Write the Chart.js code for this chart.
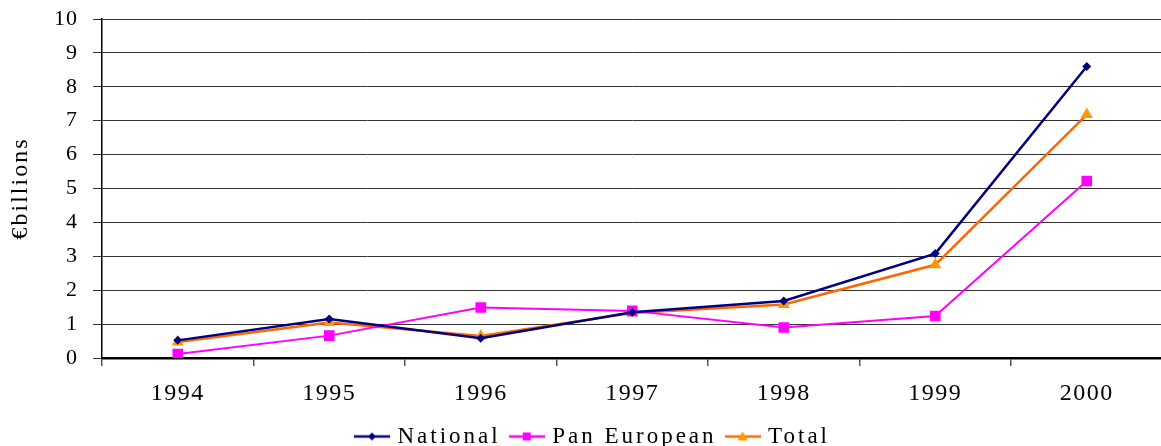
<!DOCTYPE html>
<html>
<head>
<meta charset="utf-8">
<script src="https://cdn.jsdelivr.net/npm/chart.js@4"></script>
<style>
    html, body { margin: 0; padding: 0; background: #fff; overflow: hidden; }
    #wrap { width: 1170px; height: 458px; position: relative; }
</style>
</head>
<body>
<div id="wrap"><canvas id="chart"></canvas></div>
<script>
// Values (€ billions)
const years = ['1994', '1995', '1996', '1997', '1998', '1999', '2000'];
const national = [0.52, 1.15, 0.58, 1.35, 1.68, 3.08, 8.6];
const panEuropean = [0.12, 0.66, 1.49, 1.39, 0.9, 1.24, 5.22];
const total = [0.47, 1.05, 0.65, 1.33, 1.58, 2.75, 7.18];
const yTicks = [0, 1, 2, 3, 4, 5, 6, 7, 8, 9, 10];

const FONT = '"Liberation Serif", "Times New Roman", serif';

// small line + marker image for the legend entries
function legendIcon(lineColor, markColor, shape) {
    const c = document.createElement('canvas');
    c.width = 36;
    c.height = 12;
    const g = c.getContext('2d');
    g.strokeStyle = lineColor;
    g.lineWidth = 2.5;
    g.beginPath();
    g.moveTo(0, 6);
    g.lineTo(36, 6);
    g.stroke();
    g.fillStyle = markColor;
    g.beginPath();
    if (shape === 'diamond') {
        g.moveTo(18, 2); g.lineTo(22, 6); g.lineTo(18, 10); g.lineTo(14, 6);
    } else if (shape === 'square') {
        g.rect(14, 2, 8, 8);
    } else {
        g.moveTo(18, 1); g.lineTo(23, 10); g.lineTo(13, 10);
    }
    g.closePath();
    g.fill();
    return c;
}

// run one method of a chart part with a given canvas letter spacing
// (and optionally a small horizontal shift)
function withSpacing(obj, method, value, shiftX = 0) {
    const orig = obj[method];
    obj[method] = function (...args) {
        const ctx = this.ctx;
        ctx.save();
        ctx.letterSpacing = value;
        if (shiftX) ctx.translate(shiftX, 0);
        try {
            return orig.apply(this, args);
        } finally {
            ctx.restore();
        }
    };
}

// the reference text is drawn letter-spaced, by a different amount per part
const spacing = {
    id: 'spacing',
    beforeLayout(chart) {
        if (chart.$spaced) return;
        chart.$spaced = true;
        withSpacing(chart.scales.x, 'drawLabels', '1.5px');
        withSpacing(chart.scales.y, 'drawLabels', '1px');
        withSpacing(chart.scales.y, 'drawTitle', '2px');
        withSpacing(chart.legend, 'fit', '3px');
        withSpacing(chart.legend, 'draw', '3px', 8);
    }
};

new Chart(document.getElementById('chart'), {
    type: 'line',
    data: {
        labels: years,
        datasets: [
            {
                label: 'National',
                data: national,
                borderColor: '#000080',
                backgroundColor: '#000080',
                borderWidth: 2.5,
                pointStyle: 'rectRot',
                pointRadius: 4.5,
                pointBorderWidth: 0,
                legendIcon: legendIcon('#000080', '#000080', 'diamond')
            },
            {
                label: 'Pan European',
                data: panEuropean,
                borderColor: '#FF00FF',
                backgroundColor: '#FF00FF',
                borderWidth: 2,
                pointStyle: 'rect',
                pointRadius: 7.5,
                pointBorderWidth: 0,
                legendIcon: legendIcon('#FF00FF', '#FF00FF', 'square')
            },
            {
                label: 'Total',
                data: total,
                borderColor: '#FF6600',
                backgroundColor: '#FF9900',
                borderWidth: 2.5,
                pointStyle: 'triangle',
                pointRadius: 7,
                pointBorderWidth: 0,
                legendIcon: legendIcon('#FF6600', '#FF9900', 'triangle')
            }
        ]
    },
    options: {
        responsive: true,
        maintainAspectRatio: false,
        animation: false,
        layout: { padding: { top: 19, left: 6, right: 4, bottom: 0 } },
        plugins: {
            tooltip: { enabled: false },
            legend: {
                position: 'bottom',
                align: 'center',
                labels: {
                    color: '#000',
                    font: { family: FONT, size: 23 },
                    usePointStyle: true,
                    pointStyleWidth: 28,
                    padding: 12,
                    generateLabels(chart) {
                        return chart.data.datasets.map((ds, i) => ({
                            text: ds.label,
                            pointStyle: ds.legendIcon,
                            datasetIndex: i,
                            fontColor: '#000',
                            lineWidth: 0,
                            strokeStyle: 'transparent',
                            fillStyle: 'transparent'
                        }));
                    }
                }
            }
        },
        scales: {
            x: {
                offset: true,
                grid: {
                    offset: true,
                    drawOnChartArea: false,
                    drawTicks: true,
                    tickLength: 8,
                    color: '#555',
                    lineWidth: 1.5
                },
                border: { display: true, color: '#000', width: 2.5 },
                ticks: {
                    color: '#000',
                    font: { family: FONT, size: 24 },
                    padding: 13,
                    maxRotation: 0
                },
                afterFit(scale) { scale.height = 55; }
            },
            y: {
                min: 0,
                max: 10,
                afterBuildTicks(scale) { scale.ticks = yTicks.map(v => ({ value: v })); },
                grid: {
                    color: '#333',
                    lineWidth: 1,
                    tickLength: 9,
                    drawTicks: true
                },
                border: { display: true, color: '#000', width: 1.5 },
                ticks: {
                    color: '#000',
                    font: { family: FONT, size: 22 },
                    padding: 15
                },
                title: {
                    display: true,
                    text: '€billions',
                    color: '#000',
                    font: { family: FONT, size: 24 },
                    padding: { top: 0, bottom: 8 }
                },
                afterFit(scale) {
                    scale.width = 96;
                    scale.paddingTop = 0;
                    scale.paddingBottom = 0;
                }
            }
        }
    },
    plugins: [spacing]
});
</script>
</body>
</html>
